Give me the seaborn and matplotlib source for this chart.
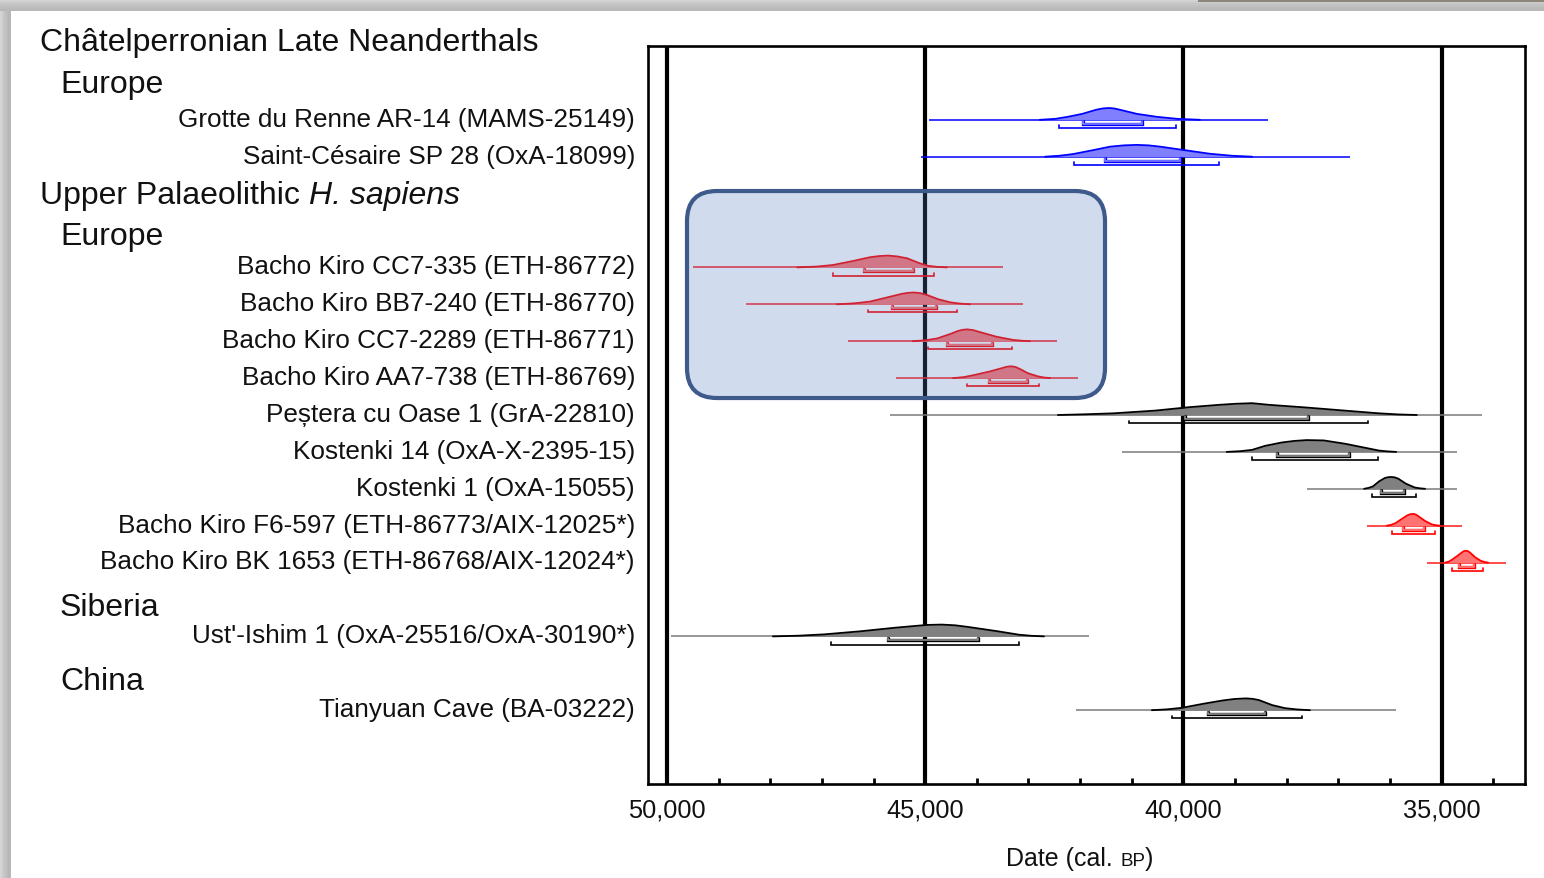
import numpy as np
import pandas as pd
import matplotlib
matplotlib.use("Agg")
import matplotlib.pyplot as plt
import seaborn as sns
from matplotlib.patches import FancyBboxPatch, Rectangle
from matplotlib.transforms import blended_transform_factory, IdentityTransform
from matplotlib.offsetbox import TextArea, HPacker, AnnotationBbox
import matplotlib.patheffects as pe

sns.set_theme(style="white")
plt.rcParams["font.family"] = ["Liberation Sans", "DejaVu Sans"]

# ---------------------------------------------------------------- data
samples = [
    "Grotte du Renne AR-14 (MAMS-25149)",
    "Saint-Césaire SP 28 (OxA-18099)",
    "Bacho Kiro CC7-335 (ETH-86772)",
    "Bacho Kiro BB7-240 (ETH-86770)",
    "Bacho Kiro CC7-2289 (ETH-86771)",
    "Bacho Kiro AA7-738 (ETH-86769)",
    "Peștera cu Oase 1 (GrA-22810)",
    "Kostenki 14 (OxA-X-2395-15)",
    "Kostenki 1 (OxA-15055)",
    "Bacho Kiro F6-597 (ETH-86773/AIX-12025*)",
    "Bacho Kiro BK 1653 (ETH-86768/AIX-12024*)",
    "Ust'-Ishim 1 (OxA-25516/OxA-30190*)",
    "Tianyuan Cave (BA-03222)",
]
rows = [0, 1, 4, 5, 6, 7, 8, 9, 10, 11, 12, 14, 16]
groups = ["blue", "blue", "red", "red", "red", "red",
          "gray", "gray", "gray", "red", "red", "gray", "gray"]

# full extent of each calibrated range (cal BP)
range_old = [44930, 45080, 49500, 48470, 46500, 45570, 45690, 41190, 37610, 36440, 35280, 49920, 42080]
range_young = [38360, 36770, 43490, 43110, 42450, 42040, 34220, 34700, 34700, 34600, 33750, 41830, 35880]
# 68.2 % and 95.4 % probability ranges
hpd68_old = [41940, 41520, 46190, 45640, 44580, 43760, 39970, 38190, 36170, 35750, 34660, 45720, 39520]
hpd68_young = [40800, 40070, 45240, 44790, 43710, 43030, 37590, 36790, 35730, 35340, 34370, 43980, 38420]
hpd95_old = [42410, 42120, 46790, 46110, 44950, 44190, 41050, 38670, 36350, 35960, 34800, 46820, 40220]
hpd95_young = [40140, 39310, 44830, 44380, 43320, 42800, 36430, 36230, 35500, 35130, 34200, 43180, 37700]

# probability distributions (year, relative density)
profile_years = [
    [42780, 42480, 42240, 41960, 41690, 41560, 41440, 41340, 41230, 40900, 40510, 40120, 39680],
    [42680, 42400, 42140, 41810, 41420, 41150, 40900, 40680, 40450, 39970, 39490, 39060, 38670],
    [47480, 47100, 46790, 46400, 46070, 45890, 45720, 45540, 45350, 45100, 44950, 44780, 44580],
    [46710, 46380, 46070, 45720, 45450, 45330, 45220, 45100, 44970, 44750, 44520, 44330, 44130],
    [45240, 44990, 44770, 44520, 44370, 44280, 44190, 44070, 43940, 43610, 43300, 43130, 42970],
    [44460, 44260, 44070, 43750, 43510, 43420, 43340, 43250, 43160, 43010, 42820, 42700, 42580],
    [42430, 41900, 41360, 40550, 39890, 39310, 38990, 38670, 38340, 37610, 36870, 36210, 35850, 35480],
    [39160, 38900, 38670, 38420, 38090, 37850, 37610, 37280, 36870, 36540, 36210, 36040, 35880],
    [36500, 36420, 36330, 36210, 36100, 36040, 35980, 35910, 35840, 35690, 35520, 35420, 35320],
    [36060, 35980, 35900, 35770, 35670, 35610, 35550, 35500, 35460, 35320, 35190, 35110, 35030],
    [34930, 34860, 34800, 34700, 34610, 34570, 34530, 34490, 34450, 34350, 34240, 34170, 34100],
    [47950, 47450, 46960, 46260, 45570, 44970, 44680, 44420, 44170, 43590, 43180, 42940, 42700],
    [40610, 40320, 40030, 39620, 39230, 39010, 38790, 38660, 38540, 38280, 38030, 37790, 37550],
]
profile_density = [
    [0, .08, .25, .50, .85, .96, 1, .96, .85, .50, .25, .08, 0],
    [0, .08, .22, .50, .85, .96, 1, .96, .85, .55, .25, .08, 0],
    [0, .07, .20, .54, .86, .96, 1, .93, .77, .34, .14, .05, 0],
    [0, .08, .23, .60, .89, .97, 1, .95, .80, .43, .17, .06, 0],
    [0, .08, .23, .60, .86, .96, 1, .94, .77, .37, .11, .04, 0],
    [0, .08, .24, .56, .85, .96, 1, .94, .76, .41, .15, .05, 0],
    [0, .06, .14, .37, .66, .86, .95, 1, .86, .63, .37, .14, .05, 0],
    [0, .06, .17, .51, .80, .93, 1, .97, .69, .40, .11, .04, 0],
    [0, .07, .20, .63, .91, .98, 1, .97, .86, .43, .11, .04, 0],
    [0, .07, .20, .57, .86, .97, 1, .95, .83, .40, .11, .04, 0],
    [0, .08, .24, .55, .85, .97, 1, .97, .85, .45, .15, .05, 0],
    [0, .06, .17, .43, .74, .97, 1, .94, .80, .43, .14, .05, 0],
    [0, .07, .20, .54, .83, .95, 1, .96, .86, .43, .17, .06, 0],
]

# section headings: (text, italic tail, indent level, row position)
headers = [
    ("Châtelperronian Late Neanderthals", "", 0, -2.11),
    ("Europe", "", 1, -0.98),
    ("Upper Palaeolithic ", "H. sapiens", 0, 2.05),
    ("Europe", "", 1, 3.15),
    ("Siberia", "", 1, 13.2),
    ("China", "", 1, 15.2),
]

major_ticks = [50000, 45000, 40000, 35000]
major_labels = ["50,000", "45,000", "40,000", "35,000"]
minor_ticks = [49000, 48000, 47000, 46000, 44000, 43000, 42000, 41000,
               39000, 38000, 37000, 36000, 34000]

# highlighted block of early Bacho Kiro dates (years, rows)
highlight_years = (49613, 41518)
highlight_rows = (1.93, 7.54)

# ---------------------------------------------------------------- styles
palette = {
    "blue": dict(line="#0000ff", fill="#8080ff", edge="#0000ff", b68="#8c8cff", b95="#0000ff"),
    "red": dict(line="#ff1a1a", fill="#ff7373", edge="#ff0000", b68="#ff8c8c", b95="#ff0000"),
    "gray": dict(line="#7a7a7a", fill="#808080", edge="#000000", b68="#9a9a9a", b95="#000000"),
}
PEAK = 0.32       # height of a distribution peak, in row units
OFF68, OFF95, HOOK = 0.11, 0.22, 0.07
TEXT = "#111111"

W, H = 1544, 879
fig = plt.figure(figsize=(W / 100, H / 100), dpi=100)
fig.patch.set_facecolor("white")
ax = fig.add_axes([648 / W, (H - 785) / H, (1525 - 648) / W, (785 - 47) / H])
ax.set_facecolor("white")
ax.set_xlim(50368, 33385)
ax.set_ylim(18.0, -2.0)

# calendar grid lines
for v in major_ticks:
    ax.axvline(v, color="black", lw=3.0, zorder=1)

# range lines
for i, r in enumerate(rows):
    c = palette[groups[i]]
    ax.plot([range_old[i], range_young[i]], [r, r], color=c["line"], lw=1.1,
            solid_capstyle="butt", zorder=2)

# filled distributions
recs = []
for i, r in enumerate(rows):
    c = palette[groups[i]]
    yrs = np.array(profile_years[i], dtype=float)
    dens = np.array(profile_density[i], dtype=float)
    ax.fill_between(yrs, r, r - dens * PEAK, color=c["fill"], lw=0, zorder=3)
    for y, d in zip(yrs, dens):
        recs.append(dict(sample=samples[i], year=y, ypos=r - d * PEAK))
prof = pd.DataFrame(recs)
sns.lineplot(data=prof, x="year", y="ypos", hue="sample", units="sample",
             estimator=None, sort=False, legend=False, lw=1.3, ax=ax, zorder=4,
             palette={s: palette[g]["edge"] for s, g in zip(samples, groups)})

# probability range brackets
for i, r in enumerate(rows):
    c = palette[groups[i]]
    y68, y95 = r + OFF68, r + OFF95
    ax.plot([hpd68_old[i], hpd68_old[i], hpd68_young[i], hpd68_young[i]],
            [y68 - HOOK, y68, y68, y68 - HOOK], color=c["b68"], lw=1.1, zorder=4,
            solid_joinstyle="miter",
            path_effects=[pe.Stroke(linewidth=2.4, foreground=c["b95"]), pe.Normal()])
    ax.plot([hpd95_old[i], hpd95_old[i], hpd95_young[i], hpd95_young[i]],
            [y95 - HOOK, y95, y95, y95 - HOOK], color=c["b95"], lw=1.2, zorder=4,
            solid_joinstyle="miter")

# axes frame and ticks
for s in ax.spines.values():
    s.set_visible(True)
    s.set_color("black")
    s.set_linewidth(1.9)
ax.set_yticks([])
ax.set_xticks(major_ticks)
ax.set_xticklabels(major_labels)
ax.set_xticks(minor_ticks, minor=True)
ax.tick_params(axis="x", which="major", bottom=True, length=0, pad=9.5,
               labelsize=18.3, labelcolor=TEXT)
ax.tick_params(axis="x", which="minor", bottom=True, direction="in",
               length=4.5, width=2.0, color="black")
ax.set_xlabel("")
ax.set_ylabel("")

# sample labels
lab_tr = blended_transform_factory(fig.transFigure, ax.transData)
for i, r in enumerate(rows):
    ax.text(635 / W, r - 0.03, samples[i], transform=lab_tr, ha="right",
            va="center", fontsize=18.8, color=TEXT, clip_on=False)

# section headings
for text, tail, level, ypos in headers:
    xs = (40 if level == 0 else 60) / W
    if tail:
        box = HPacker(children=[
            TextArea(text, textprops=dict(fontsize=23, color=TEXT)),
            TextArea(tail, textprops=dict(fontsize=23, color=TEXT, style="italic")),
        ], align="baseline", pad=0, sep=0)
        ab = AnnotationBbox(box, (xs, ypos), xycoords=lab_tr, box_alignment=(0, 0.5),
                            frameon=False, pad=0, annotation_clip=False)
        ax.add_artist(ab)
    else:
        ax.text(xs, ypos, text, transform=lab_tr, ha="left", va="center",
                fontsize=23, color=TEXT, clip_on=False)

# axis title with small-capital BP
title_box = HPacker(children=[
    TextArea("Date (cal. ", textprops=dict(fontsize=18, color=TEXT)),
    TextArea("BP", textprops=dict(fontsize=13.5, color=TEXT)),
    TextArea(")", textprops=dict(fontsize=18, color=TEXT)),
], align="baseline", pad=0, sep=0)
fig.add_artist(AnnotationBbox(title_box, (1080 / W, (H - 859) / H),
                              xycoords="figure fraction", box_alignment=(0.5, 0.5),
                              frameon=False, pad=0, annotation_clip=False))

# translucent rounded highlight over the early Bacho Kiro dates
(x0, y0) = ax.transData.transform((highlight_years[0], highlight_rows[1]))
(x1, y1) = ax.transData.transform((highlight_years[1], highlight_rows[0]))
hl = FancyBboxPatch((x0, y0), x1 - x0, y1 - y0,
                    boxstyle="round,pad=0,rounding_size=30",
                    transform=IdentityTransform(),
                    facecolor=(0.33, 0.50, 0.75, 0.27), edgecolor="#3d5a8a",
                    lw=3.0, zorder=5)
fig.add_artist(hl)

# page edge shading
shade = ["#d4d4d4", "#cdcdcd", "#c6c6c6", "#c0c0c0", "#bbbbbb", "#b8b8b8"]
for k, col in enumerate(shade):
    fig.add_artist(Rectangle((0, H - 2 * (k + 1)), W, 2, transform=IdentityTransform(),
                             facecolor=col, edgecolor="none", zorder=1))
    fig.add_artist(Rectangle((k * 10 / 6, 0), 10 / 6 + 0.5, H - 12 + 0.5,
                             transform=IdentityTransform(), facecolor=col,
                             edgecolor="none", zorder=1))
fig.add_artist(Rectangle((1198, H - 2.5), W - 1198, 2.5, transform=IdentityTransform(),
                         facecolor="#8c8578", edgecolor="none", zorder=2))

fig.savefig("out.png", dpi=100, facecolor=fig.get_facecolor())
